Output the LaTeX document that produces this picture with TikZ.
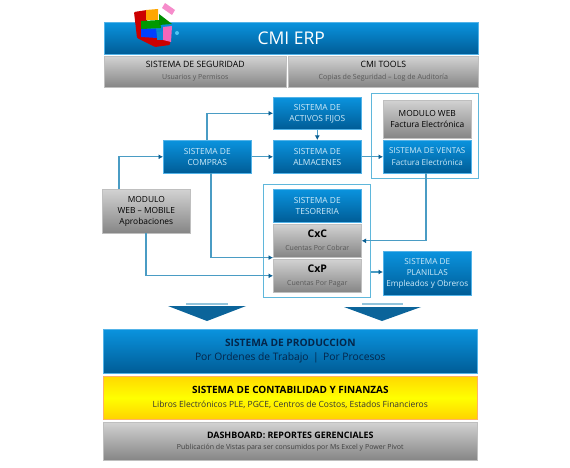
\documentclass[tikz,border=0pt]{standalone}
\usepackage{fontspec}
\setmainfont{Open Sans}
\usetikzlibrary{arrows.meta}
\definecolor{bluetop}{HTML}{0A93DE}
\definecolor{bluebot}{HTML}{005C96}
\definecolor{graytop}{HTML}{D2D2D2}
\definecolor{graybot}{HTML}{858585}
\definecolor{edgeblue}{HTML}{4A9CC4}
\definecolor{tipblue}{HTML}{0B5F92}
\definecolor{frameblue}{HTML}{5FB7DB}
\definecolor{lightcyan}{HTML}{CFEAF8}
\definecolor{darkblue}{HTML}{04264A}
\newcommand{\fs}[2]{\fontsize{#1}{#2}\selectfont}
\newcommand{\subline}[2]{{\fs{#1}{#1}\color{black!65}\strut #2}}
\tikzset{
  x=1pt,y=1pt,
  bx/.style={anchor=north west,inner sep=0pt,align=center,draw=#1,line width=.6pt},
  bluebox/.style={bx=bluetop!70!white,top color=bluetop,bottom color=bluebot,text=lightcyan,font=\fs{8.4}{11}},
  graybox/.style={bx=gray!50!white,top color=graytop,bottom color=graybot,text=black!85,font=\fs{8.4}{11}},
  framebox/.style={anchor=north west,draw=frameblue,line width=1.2pt,inner sep=0pt},
  conn/.style={draw=edgeblue,line width=1.1pt,-{Latex[length=4.5pt,width=5pt,color=tipblue]}},
  bigarrow/.style={fill=tipblue!90!bluetop,draw=none},
  capbar/.style={fill=edgeblue!60!white,draw=none},
}
\begin{document}
\begin{tikzpicture}
\useasboundingbox (0,0) rectangle (570,-468);
\fill[white] (0,0) rectangle (570,-468);
% header
\node[bluebox,minimum width=374pt,minimum height=32pt,text=white,font=\fs{17.5}{20}] (erp) at (104,-22) {CMI ERP};
\node[graybox,minimum width=182pt,minimum height=31pt,font=\fs{8.7}{12},text=black] (seg) at (104,-56) {SISTEMA DE SEGURIDAD\\\subline{7}{Usuarios y Permisos}};
\node[graybox,minimum width=190pt,minimum height=31pt,font=\fs{8.7}{12},text=black] (tools) at (288,-56) {CMI TOOLS\\\subline{7.1}{Copias de Seguridad -- Log de Auditoría}};
% icon
\fill[red!80!black,rounded corners=1pt] (134,-12) -- (147,-10) -- (147,-36) -- (170,-38) -- (170,-45) -- (155,-47) -- (137,-38) -- cycle;
\fill[orange!70!yellow] (146,-10) -- (158,-9) -- (158,-20) -- (146,-20) -- cycle;
\fill[green!60!black] (141,-21) -- (160,-20) -- (161,-28) -- (141,-29) -- cycle;
\fill[blue!75!cyan] (141,-29) -- (156,-29) -- (157,-38) -- (141,-37) -- cycle;
\fill[green!55!black] (159,-14) -- (172,-24) -- (159,-25) -- cycle;
\fill[cyan!70!blue] (157,-32) -- (164,-31) -- (164,-40) -- (157,-40) -- cycle;
\fill[magenta!60!white] (163,-27) -- (172,-26) -- (171,-42) -- (163,-40) -- cycle;
\fill[magenta!45!white] (165,-3) -- (175,-10) -- (172,-15) -- (162,-8) -- cycle;
\fill[cyan!70!white] (177,-33) circle (2);
% frames
\node[framebox,minimum width=107pt,minimum height=85pt] (webframe) at (371,-93) {};
\node[framebox,minimum width=107pt,minimum height=113pt] (tesframe) at (263,-184) {};
% middle boxes
\node[bluebox,minimum width=88pt,minimum height=32pt] (act) at (273,-97) {SISTEMA DE\\ACTIVOS FIJOS};
\node[bluebox,minimum width=88pt,minimum height=33pt] (alm) at (273,-140) {SISTEMA DE\\ALMACENES};
\node[bluebox,minimum width=88pt,minimum height=33pt] (com) at (163,-140) {SISTEMA DE\\COMPRAS};
\node[graybox,minimum width=88pt,minimum height=38pt,text=black] (web) at (383,-100) {MODULO WEB\\Factura Electrónica};
\node[bluebox,minimum width=88pt,minimum height=33pt,font=\fs{8.1}{12}] (ven) at (383,-140) {SISTEMA DE VENTAS\\Factura Electrónica};
\node[graybox,minimum width=88pt,minimum height=44pt,text=black] (mob) at (102,-189) {MODULO\\WEB -- MOBILE\\Aprobaciones};
\node[bluebox,minimum width=88pt,minimum height=33pt] (tes) at (273,-189) {SISTEMA DE\\TESORERIA};
\node[graybox,minimum width=88pt,minimum height=33pt,font=\fs{10.5}{13}\bfseries,text=black] (cxc) at (273,-224) {CxC\\{\mdseries\subline{7}{Cuentas Por Cobrar}}};
\node[graybox,minimum width=88pt,minimum height=33pt,font=\fs{10.5}{13}\bfseries,text=black] (cxp) at (273,-259) {CxP\\{\mdseries\subline{7}{Cuentas Por Pagar}}};
\node[bluebox,minimum width=88pt,minimum height=44pt,font=\fs{8.2}{11}] (pla) at (383,-251) {SISTEMA DE\\PLANILLAS\\Empleados y Obreros};
% connectors
\coordinate (junction) at (cxc.south west);
\draw[conn] (com.north -| 207,0) |- (act.west);
\draw[conn] (com.east) -- (alm.west);
\draw[conn] (act.south) -- (alm.north);
\draw[conn] (alm.east) -- (ven.west);
\draw[conn] (426,-173) |- (cxc.east);
\draw[conn] (119,-189) |- (com.west);
\draw[conn] (211,-173) |- (junction);
\draw[conn] (146,-233) |- (cxp.west);
\draw[conn] (tesframe.east |- 0,-272) -- (pla.west |- 0,-272);
% big arrows
\fill[capbar] (186,-303) rectangle (228,-305);
\fill[bigarrow] (168,-306) -- (246,-306) -- (207,-321) -- cycle;
\fill[capbar] (362,-303) rectangle (403,-305);
\fill[bigarrow] (344,-307) -- (421,-307) -- (382,-321) -- cycle;
% bottom bands
\node[bluebox,minimum width=374pt,minimum height=44pt,text=darkblue,font=\fs{10.2}{14}] (prod) at (103,-329) {\textbf{SISTEMA DE PRODUCCION}\\\fs{10.3}{14}Por Ordenes de Trabajo \,|\, Por Procesos};
\node[bx=orange!60!white,top color=yellow!70!orange,bottom color=yellow!65!orange,middle color=yellow,text=black,minimum width=374pt,minimum height=43pt,font=\fs{10}{14}] (cont) at (103,-376) {\textbf{SISTEMA DE CONTABILIDAD Y FINANZAS}\\\fs{8.5}{14}\color{black!80}Libros Electrónicos PLE, PGCE, Centros de Costos, Estados Financieros};
\node[graybox,minimum width=374pt,minimum height=38pt,text=black,font=\fs{8.9}{11}] (dash) at (103,-422) {\textbf{DASHBOARD: REPORTES GERENCIALES}\\\fs{7}{10}\color{black!75}Publicación de Vistas para ser consumidos por Ms Excel y Power Pivot};
\end{tikzpicture}
\end{document}
